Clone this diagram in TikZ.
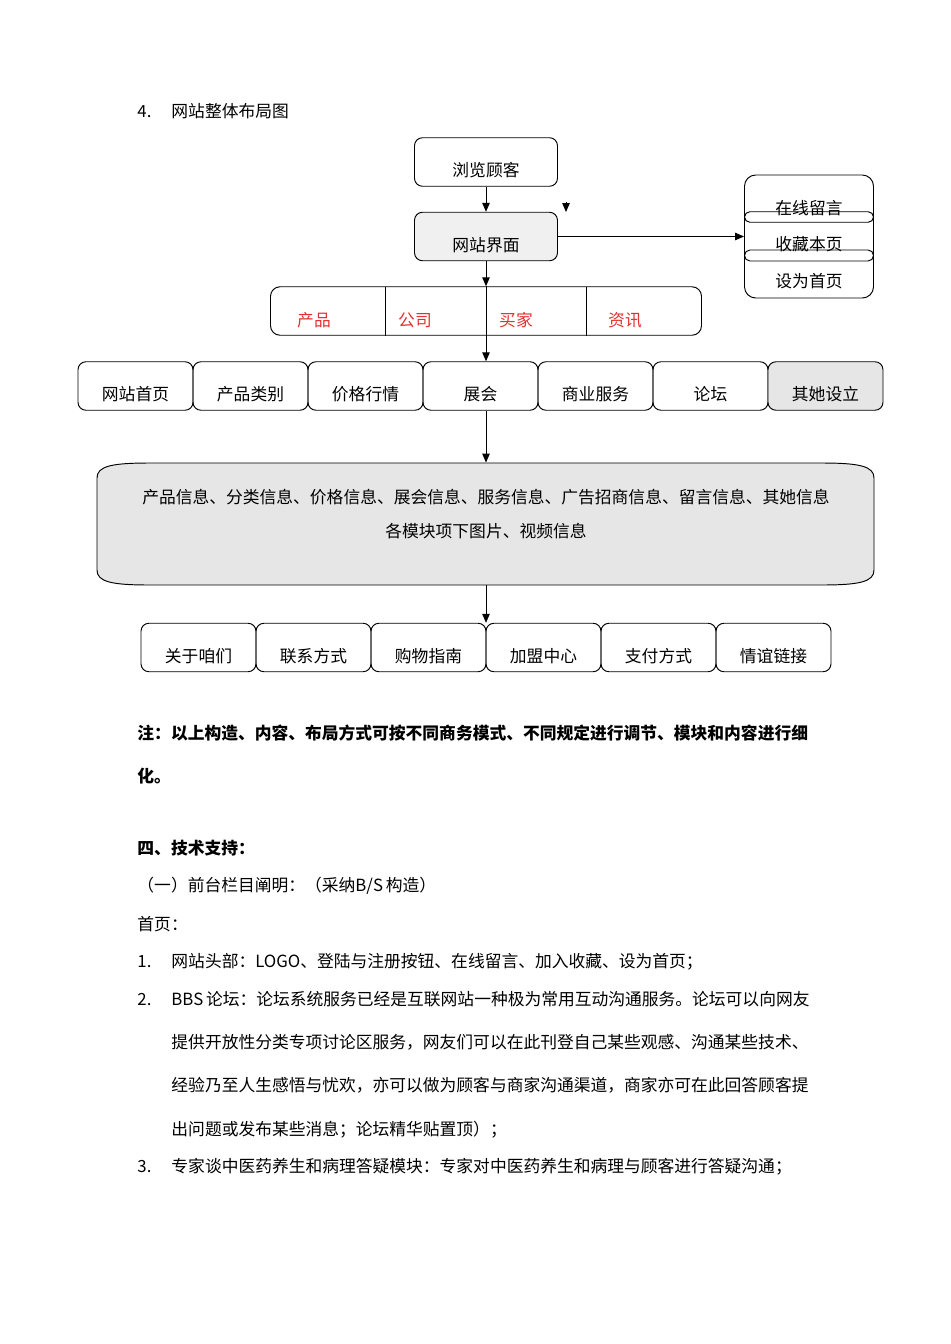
\documentclass[tikz,border=0pt]{standalone}
\usepackage{fontspec}
\setmainfont{Noto Sans CJK SC}
\usetikzlibrary{arrows.meta,calc}
\definecolor{lightfill}{RGB}{240,240,240}
\definecolor{grayfill}{RGB}{230,230,230}
\definecolor{redtext}{RGB}{228,48,48}
\begin{document}
\begin{tikzpicture}[x=0.62632pt,y=-0.62632pt,
  font=\fontsize{10.5pt}{12pt}\selectfont,
  line width=0.6pt,
  box/.style={draw, rounded corners=5pt, inner sep=0pt, text height=19.6pt, text depth=1pt,
    minimum width=#1*0.62632pt, minimum height=48.5*0.62632pt},
  box/.default=115,
  arr/.style={-{Triangle[length=5.5pt,width=4.6pt]}},
  lbl/.style={inner sep=0pt},
  body/.style={anchor=base west, inner sep=0pt}]
\useasboundingbox (0,0) rectangle (950,1344);

% heading
\node[body] (h4n) at (137,117) {4.};
\node[body] (h4t) at (171,117) {网站整体布局图};

% top chain
\node[box=143] (browse) at (486,162) {浏览顾客};
\node[box=143, fill=lightfill] (site) at (486,236.5) {网站界面};
\draw[arr] (browse) -- (site);

% stray arrow head
\coordinate (s1) at (566,202);
\coordinate (s2) at (566,212);
\draw[arr] (s1) -- (s2);

% right stack
\node[draw, rounded corners=7pt, minimum width=129*0.62632pt, minimum height=123*0.62632pt] (stack) at (809,236.5) {};
\node[draw, rounded corners=3.3pt, minimum width=129*0.62632pt, minimum height=10.5*0.62632pt, inner sep=0pt] (cap1) at (809,217) {};
\node[draw, rounded corners=3.4pt, minimum width=129*0.62632pt, minimum height=11*0.62632pt, inner sep=0pt] (cap2) at (809,255.5) {};
\node[lbl] (st1) at (809,208) {在线留言};
\node[lbl] (st2) at (809,244) {收藏本页};
\node[lbl] (st3) at (809,281) {设为首页};
\draw[arr] (site.east) -- (stack.west);

% category bar
\node[draw, rounded corners=6pt, minimum width=431*0.62632pt, minimum height=48.5*0.62632pt] (cat) at (486,311) {};
\draw (385.5,287) -- (385.5,335.5);
\draw (586,287) -- (586,335.5);
\node[lbl, text=redtext] (c1) at (314,320) {产品};
\node[lbl, text=redtext] (c2) at (415,320) {公司};
\node[lbl, text=redtext] (c3) at (516,320) {买家};
\node[lbl, text=redtext] (c4) at (625,320) {资讯};
\draw[arr] (site) -- (cat);

% main row
\node[box] (m1) at (135.5,386) {网站首页};
\node[box] (m2) at (250.5,386) {产品类别};
\node[box] (m3) at (365.5,386) {价格行情};
\node[box] (m4) at (480.5,386) {展会};
\node[box] (m5) at (595.5,386) {商业服务};
\node[box] (m6) at (710.5,386) {论坛};
\node[box, fill=grayfill] (m7) at (825.5,386) {其她设立};
\draw[arr] (cat.north) -- (cat.north |- m4.north);

% info block
\node[minimum width=777*0.62632pt, minimum height=122*0.62632pt, inner sep=0pt] (info) at (485.5,524) {};
\draw[fill=grayfill] (97,478) .. controls (97,466) and (112,463) .. (150,463) -- (821,463)
  .. controls (859,463) and (874,466) .. (874,478) -- (874,570)
  .. controls (874,582) and (859,585) .. (821,585) -- (150,585)
  .. controls (112,585) and (97,582) .. (97,570) -- cycle;
\node[lbl] (i1) at (486,497) {产品信息、分类信息、价格信息、展会信息、服务信息、广告招商信息、留言信息、其她信息};
\node[lbl] (i2) at (486,531) {各模块项下图片、视频信息};
\draw[arr] (cat.north |- m4.south) -- (cat.north |- info.north);

% bottom row
\node[box] (b1) at (198.5,647.5) {关于咱们};
\node[box] (b2) at (313.5,647.5) {联系方式};
\node[box] (b3) at (428.5,647.5) {购物指南};
\node[box] (b4) at (543.5,647.5) {加盟中心};
\node[box] (b5) at (658.5,647.5) {支付方式};
\node[box] (b6) at (773.5,647.5) {情谊链接};
\draw[arr] (cat.north |- info.south) -- (cat.north |- b4.north);

% text below
\node[body, font=\fontsize{10.5pt}{12pt}\selectfont\bfseries] (n1) at (137,739) {注：以上构造、内容、布局方式可按不同商务模式、不同规定进行调节、模块和内容进行细};
\node[body, font=\fontsize{10.5pt}{12pt}\selectfont\bfseries] (n2) at (137,782) {化。};
\node[body, font=\fontsize{10.5pt}{12pt}\selectfont\bfseries] (t4) at (137,854) {四、技术支持：};
\node[body] (t41) at (137,891) {（一）前台栏目阐明：（采纳B/S\,构造）};
\node[body] (t42) at (137,930) {首页：};
\node[body] (l1n) at (137,967) {1.};
\node[body] (l1) at (171,967) {网站头部：LOGO、登陆与注册按钮、在线留言、加入收藏、设为首页；};
\node[body] (l2n) at (137,1005) {2.};
\node[body] (l2) at (171,1005) {BBS\,论坛：论坛系统服务已经是互联网站一种极为常用互动沟通服务。论坛可以向网友};
\node[body] (l2b) at (171,1048) {提供开放性分类专项讨论区服务，网友们可以在此刊登自己某些观感、沟通某些技术、};
\node[body] (l2c) at (171,1091) {经验乃至人生感悟与忧欢，亦可以做为顾客与商家沟通渠道，商家亦可在此回答顾客提};
\node[body] (l2d) at (171,1135) {出问题或发布某些消息；论坛精华贴置顶）；};
\node[body] (l3n) at (137,1172) {3.};
\node[body] (l3) at (171,1172) {专家谈中医药养生和病理答疑模块：专家对中医药养生和病理与顾客进行答疑沟通；};
\end{tikzpicture}
\end{document}
